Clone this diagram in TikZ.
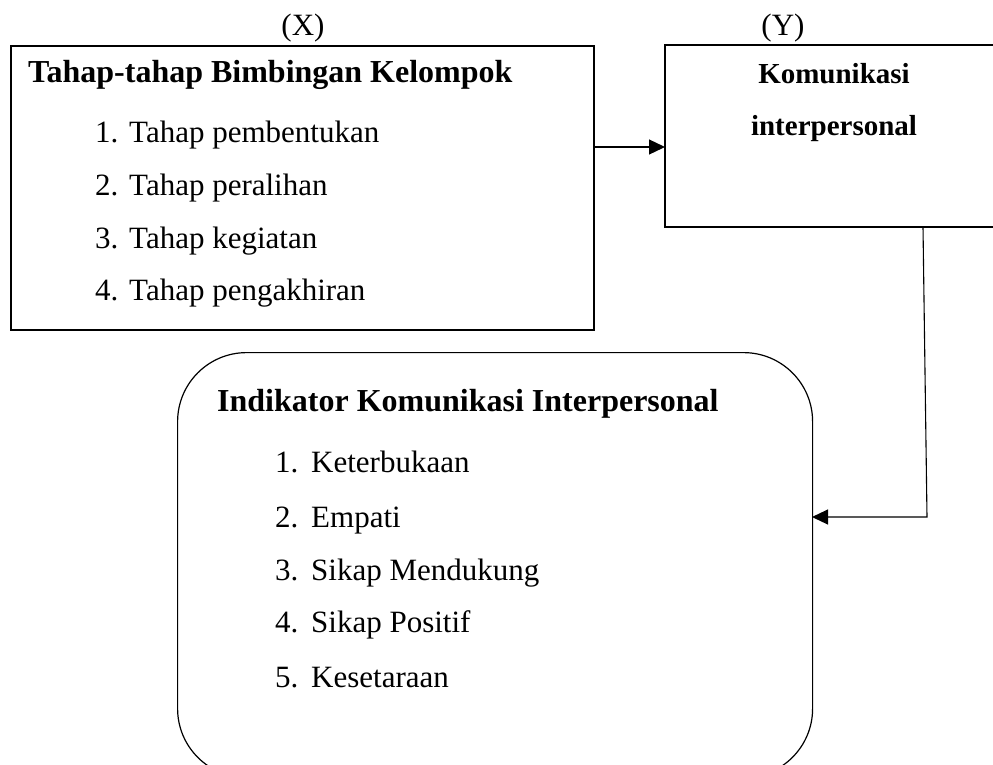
\documentclass[tikz,border=0pt]{standalone}
\usepackage{fontspec}
\setmainfont{Liberation Serif}
\usetikzlibrary{arrows.meta}
\tikzset{
  boxline/.style={line width=1.6pt, draw=black},
  rline/.style={line width=1.2pt, draw=black},
  conn/.style={line width=1.3pt, -{Triangle[length=16pt,width=15pt]}},
  thinconn/.style={line width=1.1pt, -{Triangle[length=16pt,width=15pt]}},
  btitle/.style={anchor=base west, inner sep=0pt, font=\fontsize{32}{38}\selectfont\bfseries},
  ytitle/.style={anchor=base, inner sep=0pt, font=\fontsize{29}{34}\selectfont\bfseries},
  item/.style={anchor=base west, inner sep=0pt, font=\fontsize{31}{36}\selectfont},
  lbl/.style={anchor=base, inner sep=0pt, font=\fontsize{31}{36}\selectfont},
}
\begin{document}
\begin{tikzpicture}[x=1pt,y=-1pt]
\useasboundingbox (0,0) rectangle (993,764);
% labels
\node[lbl] (lx) at (303,35) {(X)};
\node[lbl] (ly) at (783,35) {(Y)};
% X box
\node[boxline, draw, rectangle, minimum width=583pt, minimum height=284pt, anchor=north west, inner sep=0pt] (xbox) at (10,45) {};
\node[btitle] (xt) at (28,82) {Tahap-tahap Bimbingan Kelompok};
\node[item] (xn1) at (95,142) {1.};
\node[item] (xi1) at (129,142) {Tahap pembentukan};
\node[item] (xn2) at (95,195) {2.};
\node[item] (xi2) at (129,195) {Tahap peralihan};
\node[item] (xn3) at (95,248) {3.};
\node[item] (xi3) at (129,248) {Tahap kegiatan};
\node[item] (xn4) at (95,300) {4.};
\node[item] (xi4) at (129,300) {Tahap pengakhiran};
% Y box (open to the right)
\coordinate (ytr) at (994,45);
\coordinate (ytl) at (665,45);
\coordinate (ybl) at (665,227);
\coordinate (ybr) at (994,227);
\draw[boxline] (ytr) -- (ytl) -- (ybl) -- (ybr);
\node[ytitle] (y1) at (834,83) {Komunikasi};
\node[ytitle] (y2) at (834,135) {interpersonal};
% Indicator rounded box
\node[rline, draw, rectangle, rounded corners=69pt, minimum width=635pt, minimum height=425pt, anchor=north west, inner sep=0pt] (ibox) at (177,352) {};
\node[btitle] (it) at (217,411) {Indikator Komunikasi Interpersonal};
\node[item] (in1) at (275,472) {1.};
\node[item] (ii1) at (311,472) {Keterbukaan};
\node[item] (in2) at (275,527) {2.};
\node[item] (ii2) at (311,527) {Empati};
\node[item] (in3) at (275,580) {3.};
\node[item] (ii3) at (311,580) {Sikap Mendukung};
\node[item] (in4) at (275,632) {4.};
\node[item] (ii4) at (311,632) {Sikap Positif};
\node[item] (in5) at (275,687) {5.};
\node[item] (ii5) at (311,687) {Kesetaraan};
% connectors
\coordinate (a1) at (593,147);
\coordinate (a2) at (665,147);
\draw[conn] (a1) -- (a2);
\coordinate (c0) at (923,227);
\coordinate (c1) at (927,517);
\coordinate (c2) at (812,517);
\draw[thinconn] (c0) -- (c1) -- (c2);
\end{tikzpicture}
\end{document}
